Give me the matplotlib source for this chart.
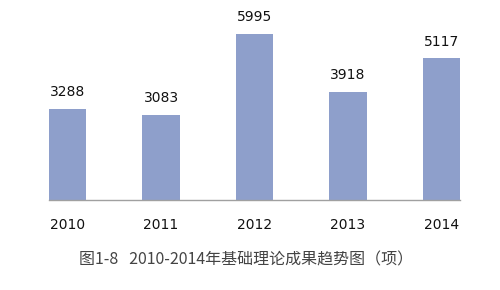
import matplotlib.pyplot as plt

years = ['2010', '2011', '2012', '2013', '2014']
counts = [3288, 3083, 5995, 3918, 5117]
title = '图1-8   2010-2014年基础理论成果趋势图（项）'

plt.rcParams['font.family'] = ['DejaVu Sans', 'Noto Sans CJK SC']

fig = plt.figure(figsize=(5, 2.9), dpi=100)
ax = fig.add_axes([0.098, 0.31, 0.822, 0.573])

x = range(len(years))
bars = ax.bar(x, counts, width=0.4, color='#8e9fcb', edgecolor='none')

for b, v in zip(bars, counts):
    ax.annotate(str(v), (b.get_x() + b.get_width() / 2, v),
                xytext=(0, 7), textcoords='offset points',
                ha='center', va='bottom', fontsize=10, color='#111111')

ax.set_xlim(-0.2, 4.2)
ax.set_ylim(0, 6000)
ax.set_xticks(list(x))
ax.set_xticklabels(years, fontsize=10, color='#111111')
ax.tick_params(axis='x', length=0, pad=13)
ax.set_yticks([])
for s in ['top', 'right', 'left']:
    ax.spines[s].set_visible(False)
ax.spines['bottom'].set_color('#a0a0a0')
ax.spines['bottom'].set_linewidth(1)

fig.text(0.493, 0.105, title, ha='center', va='center', fontsize=11.5,
         color='#444444', family=['Noto Sans CJK SC', 'DejaVu Sans'])

fig.savefig('out.png', dpi=100)
plt.close()
